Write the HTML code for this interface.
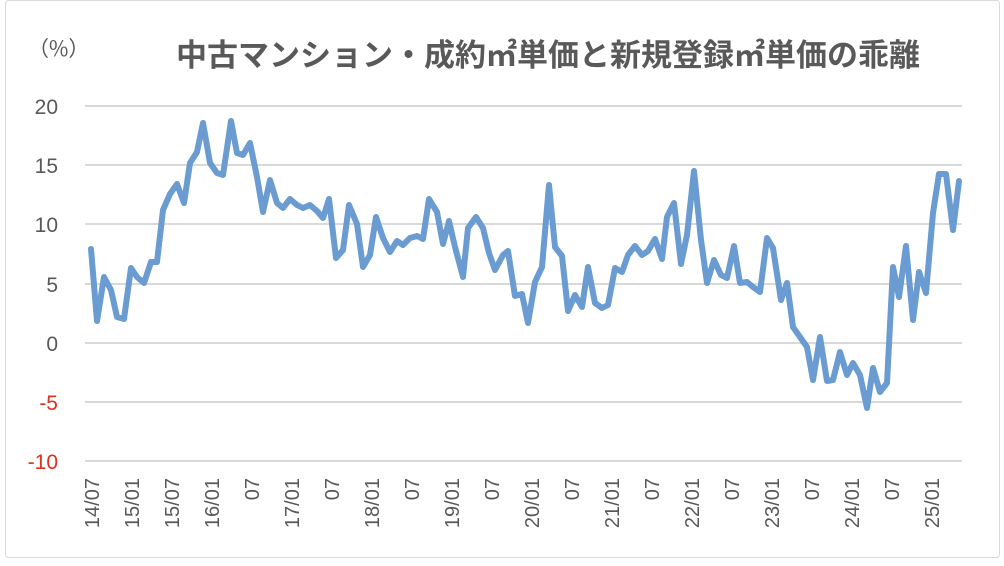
<!DOCTYPE html>
<html><head><meta charset="utf-8"><style>
html,body{margin:0;padding:0;background:#fff;}
svg{display:block;}
text{font-family:"Liberation Sans","Noto Sans CJK JP",sans-serif;fill:#595959;}
</style></head><body>
<svg width="1004" height="566" viewBox="0 0 1004 566">
<rect x="5.5" y="0.5" width="994" height="557" rx="3" fill="#fff" stroke="#d9d9d9"/>
<text x="28" y="56" font-size="21" style="font-family:'Noto Sans CJK JP',sans-serif">（%）</text>
<text x="548" y="66" font-size="31" font-weight="bold" text-anchor="middle" style="font-family:'Noto Sans CJK JP',sans-serif">中古マンション・成約㎡単価と新規登録㎡単価の乖離</text>
<g stroke="#d9d9d9" stroke-width="2">
<line x1="85" x2="962" y1="106" y2="106"/><line x1="85" x2="962" y1="165" y2="165"/>
<line x1="85" x2="962" y1="224" y2="224"/><line x1="85" x2="962" y1="284" y2="284"/>
<line x1="85" x2="962" y1="343" y2="343"/><line x1="85" x2="962" y1="402" y2="402"/>
<line x1="85" x2="962" y1="461" y2="461"/>
</g>
<g font-size="21" text-anchor="end">
<text x="58" y="114">20</text><text x="58" y="173">15</text><text x="58" y="232">10</text>
<text x="58" y="292">5</text><text x="58" y="351">0</text>
<text x="58" y="410" style="fill:#e03020">-5</text><text x="58" y="469" style="fill:#e03020">-10</text>
</g>
<g font-size="20" text-anchor="end">
<text transform="translate(99,478) rotate(-90)">14/07</text>
<text transform="translate(139,478) rotate(-90)">15/01</text>
<text transform="translate(179,478) rotate(-90)">15/07</text>
<text transform="translate(219,478) rotate(-90)">16/01</text>
<text transform="translate(259,478) rotate(-90)">07</text>
<text transform="translate(299,478) rotate(-90)">17/01</text>
<text transform="translate(339,478) rotate(-90)">07</text>
<text transform="translate(379,478) rotate(-90)">18/01</text>
<text transform="translate(419,478) rotate(-90)">07</text>
<text transform="translate(459,478) rotate(-90)">19/01</text>
<text transform="translate(499,478) rotate(-90)">07</text>
<text transform="translate(539,478) rotate(-90)">20/01</text>
<text transform="translate(579,478) rotate(-90)">07</text>
<text transform="translate(619,478) rotate(-90)">21/01</text>
<text transform="translate(659,478) rotate(-90)">07</text>
<text transform="translate(699,478) rotate(-90)">22/01</text>
<text transform="translate(739,478) rotate(-90)">07</text>
<text transform="translate(779,478) rotate(-90)">23/01</text>
<text transform="translate(819,478) rotate(-90)">07</text>
<text transform="translate(859,478) rotate(-90)">24/01</text>
<text transform="translate(899,478) rotate(-90)">07</text>
<text transform="translate(939,478) rotate(-90)">25/01</text>
</g>
<polyline fill="none" stroke="#6a9bd1" stroke-width="6" stroke-linejoin="round" stroke-linecap="round" points="
91,249 97,321 104,277 111,290 117,317 124,319 131,268 137,277 144,283 151,262 157,262 163,210 170,194 177,184 184,203 190,163 197,152 203,123 210,163 217,173 223,175 231,121 237,153 243,155 250,143 257,177 263,212 270,180 277,203 283,208 290,199 297,205 303,208 310,205 317,211 323,218 329,199 336,258 343,250 349,205 357,224 363,267 370,255 376,217 383,238 390,252 397,241 403,245 410,238 417,236 423,239 429,199 437,212 443,244 449,221 455,247 463,277 468,228 476,217 483,228 489,253 495,270 503,255 508,251 515,296 522,294 528,323 535,282 542,267 549,185 555,247 562,256 568,311 575,295 582,307 588,267 595,303 602,308 608,305 615,268 622,272 628,255 635,246 642,255 648,251 655,239 662,259 667,217 674,203 681,264 687,235 694,171 701,240 707,283 714,260 721,275 727,278 734,246 740,283 747,282 753,287 760,292 767,238 773,248 781,300 787,283 793,327 800,337 807,347 813,380 820,337 827,381 833,380 840,352 847,375 853,363 860,375 867,408 873,368 880,392 887,383 893,267 899,297 906,246 913,320 919,272 926,293 933,213 939,174 946,174 953,230 959,181"/>
</svg>
</body></html>
